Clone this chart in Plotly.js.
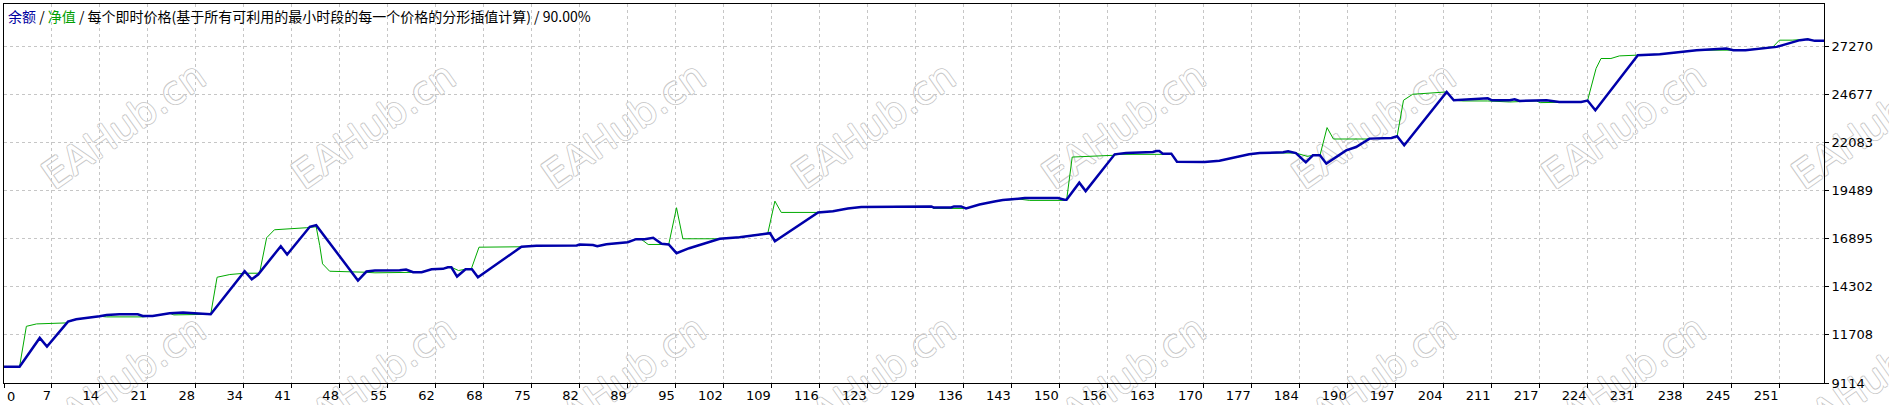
<!DOCTYPE html>
<html>
<head>
<meta charset="utf-8">
<script src="https://cdn.plot.ly/plotly-3.0.1.min.js"></script>
<style>
  html, body { margin: 0; padding: 0; background: #fff; }
  #chart { width: 1889px; height: 405px; }
</style>
</head>
<body>
<div id="chart"></div>
<script>
// ------------------------------------------------------------
// データ
// ------------------------------------------------------------

const seriesNames = ['余额', '净值']
const titleRest = '每个即时价格(基于所有可利用的最小时段的每一个价格的分形插值计算)'
const titleRatio = '90.00%'

// 余额 (balance) の折れ点: 取引番号 / 金額
const balanceTrade = [0, 2.2, 5.05, 6.07, 9.04, 10.2, 13.5, 14.5, 16.3, 18.9, 19.6, 21.0, 23.4, 25.3, 26.9, 29.2,
  34.0, 35.0, 35.9, 39.1, 40.0, 43.2, 44.1, 50.0, 51.2, 52.4, 55.9, 56.8, 57.8, 59.0, 60.4, 62.0, 62.7, 63.2,
  64.0, 65.2, 66.1, 66.95, 73.1, 75.2, 80.9, 81.3, 83.2, 83.8, 85.1, 87.0, 88.1, 89.3, 90.5, 91.7, 92.9, 93.9,
  95.0, 96.8, 101.1, 103.9, 107.7, 108.2, 108.9, 115.0, 117.1, 119.2, 121.1, 126.1, 131.0, 131.3, 133.8, 134.2,
  135.2, 135.9, 137.8, 139.9, 141.1, 144.2, 148.9, 149.8, 150.1, 151.9, 152.8, 156.9, 158.5, 162.3, 162.8, 163.2,
  163.7, 164.9, 165.7, 169.6, 171.7, 175.9, 177.4, 180.7, 181.4, 182.5, 183.9, 184.9, 185.9, 186.8, 189.6, 191.0,
  192.9, 196.0, 196.8, 197.8, 203.8, 204.8, 206.1, 208.4, 209.6, 210.2, 212.7, 213.4, 214.1, 217.9, 219.7, 222.8,
  223.7, 224.8, 230.8, 233.9, 237.2, 239.1, 243.3, 244.3, 246.0, 249.0, 250.4, 253.7, 254.8, 255.8, 257.1]
const balanceValue = [9995, 9995, 11546, 11075, 12426, 12551, 12713, 12788, 12821, 12821, 12734, 12734, 12875, 12913, 12875, 12821,
  15144, 14712, 14966, 16495, 16047, 17540, 17630, 14642, 15128, 15182, 15200, 15236, 15090, 15090, 15252, 15274, 15360, 15360,
  14858, 15252, 15252, 14820, 16463, 16517, 16533, 16587, 16560, 16495, 16603, 16657, 16711, 16873, 16873, 16949, 16625, 16587,
  16117, 16387, 16895, 16981, 17198, 17198, 16765, 18316, 18386, 18532, 18603, 18640, 18640, 18586, 18586, 18640,
  18640, 18532, 18748, 18910, 18981, 19089, 19089, 19003, 19003, 19921, 19467, 21450, 21521, 21575, 21628, 21628,
  21488, 21488, 21056, 21040, 21100, 21450, 21521, 21558, 21612, 21521, 21018, 21396, 21396, 20948, 21666, 21845,
  22298, 22331, 22423, 21937, 24817, 24368, 24406, 24476, 24476, 24368, 24368, 24422, 24330, 24368, 24276, 24276,
  24352, 23828, 26799, 26853, 26978, 27070, 27162, 27070, 27070, 27216, 27248, 27610, 27664, 27573, 27573]

// 净值 (equity) の折れ点
const equityTrade = [0, 2.2, 3.16, 4.6, 8.8, 9.04, 10.2, 13.5, 14.5, 19.6, 21.0, 23.4, 24.0, 28.5, 29.2,
  30.1, 31.9, 34.0, 36.1, 37.1, 38.2, 42.7, 44.1, 44.6, 45.0, 46.0, 49.3, 51.0, 52.4, 57.8, 59.0, 60.4, 62.0,
  62.7, 63.2, 64.2, 65.2, 66.0, 67.1, 73.1, 75.2, 80.9, 81.3, 83.2, 83.8, 85.1, 87.0, 88.1, 89.3, 90.0, 91.0,
  93.9, 95.0, 95.9, 100.4, 101.1, 103.9, 107.7, 107.9, 108.9, 109.8, 115.0, 117.1, 119.2, 121.1, 126.1, 131.0,
  131.3, 136.0, 137.8, 139.9, 141.1, 143.5, 144.9, 150.1, 150.9, 156.6, 157.5, 164.9, 165.7, 169.6, 171.7, 175.9,
  177.4, 182.5, 184.1, 184.9, 185.9, 186.9, 187.8, 192.4, 192.9, 196.0, 196.8, 197.7, 199.0, 203.8, 204.8, 206.1,
  209.6, 212.7, 216.5, 217.0, 219.7, 222.8, 223.7, 224.9, 225.6, 227.0, 228.2, 230.8, 233.9, 237.2, 239.1, 244.3,
  246.0, 249.0, 249.9, 250.8, 252.6, 254.8, 255.8, 257.1]
const equityValue = [9995, 9995, 12172, 12302, 12356, 12426, 12551, 12713, 12680, 12680, 12734, 12875, 12788, 12788, 12821,
  14820, 14966, 15036, 15036, 16949, 17381, 17490, 17544, 16533, 15544, 15144, 15128, 15090, 15058, 15058, 15090, 15252, 15274,
  15360, 15360, 15182, 15252, 15252, 16441, 16463, 16517, 16533, 16587, 16560, 16495, 16603, 16657, 16711, 16873, 16873, 16587,
  16587, 18570, 16895, 16895, 16895, 16981, 17198, 17198, 18927, 18316, 18316, 18386, 18532, 18603, 18640, 18640,
  18532, 18532, 18748, 18910, 18981, 19030, 18965, 18965, 21304, 21396, 21450, 21450, 21056, 21040, 21100, 21450,
  21521, 21521, 21342, 21396, 21396, 22893, 22277, 22277, 22298, 22331, 22423, 24368, 24692, 24817, 24368, 24330,
  24330, 24276, 24330, 24240, 24240, 24276, 24352, 26081, 26621, 26621, 26761, 26799, 26853, 26978, 27070, 27070,
  27070, 27216, 27248, 27610, 27610, 27664, 27573, 27573]

// 軸の目盛り
const xTickLabels = [0, 7, 14, 21, 28, 34, 41, 48, 55, 62, 68, 75, 82, 89, 95, 102, 109, 116, 123, 129, 136, 143, 150, 156,
  163, 170, 177, 184, 190, 197, 204, 211, 217, 224, 231, 238, 245, 251]
const yTickLabels = [9114, 11708, 14302, 16895, 19489, 22083, 24677, 27270]

// ------------------------------------------------------------
// レイアウト
// ------------------------------------------------------------

const W = 1889, H = 405
const M = { l: 4, r: 65, t: 4, b: 22 }
const xGridStep = 6.779      // MT4 はピクセル等間隔でグリッドを引く
const xRange = [0, 257.1]
const yRange = [9114, 29561]
const tickFont = { family: 'DejaVu Sans, Verdana, sans-serif', size: 13, color: '#000' }

// 透かし (EAHub.cn) の中心位置 [px]
const markCols = [122, 372, 622, 872, 1122, 1372, 1622, 1872]
const markRows = [123, 376]

const toPaperX = px => (px - M.l) / (W - M.l - M.r)
const toPaperY = py => (H - M.b - py) / (H - M.t - M.b)

const watermarks = []
markRows.forEach(py => {
  markCols.forEach(px => {
    watermarks.push({
      type: 'rect', xref: 'paper', yref: 'paper', layer: 'below',
      x0: toPaperX(px - 1), x1: toPaperX(px + 1), y0: toPaperY(py + 1), y1: toPaperY(py - 1),
      line: { width: 0 }, fillcolor: 'rgba(0,0,0,0)',
      label: {
        text: 'EAHub.cn', textangle: -35,
        font: {
          family: 'DejaVu Sans, sans-serif', size: 39, color: '#ffffff',
          shadow: '1px 0 0 #c8c8c8, -1px 0 0 #c8c8c8, 0 1px 0 #c8c8c8, 0 -1px 0 #c8c8c8'
        }
      }
    })
  })
})

const traces = [
  {
    x: equityTrade, y: equityValue, name: seriesNames[1],
    type: 'scatter', mode: 'lines',
    line: { color: '#00aa00', width: 1 }
  },
  {
    x: balanceTrade, y: balanceValue, name: seriesNames[0],
    type: 'scatter', mode: 'lines',
    line: { color: '#0000aa', width: 2.5 }
  }
]

const titleText = '<span style="color:#0000a0">' + seriesNames[0] + '</span> / ' +
  '<span style="color:#00a000">' + seriesNames[1] + '</span> / ' +
  titleRest + ' / ' + titleRatio

const layout = {
  width: W, height: H,
  margin: M,
  paper_bgcolor: '#fff', plot_bgcolor: '#fff',
  showlegend: false,
  title: {
    text: titleText,
    xref: 'paper', x: 0, xanchor: 'left',
    yref: 'paper', y: 1, yanchor: 'top',
    pad: { l: 4, t: 8 },
    font: { family: 'Noto Sans CJK SC, sans-serif', size: 14, color: '#000' }
  },
  xaxis: {
    range: xRange, fixedrange: true,
    tickmode: 'array',
    tickvals: xTickLabels.map((_, k) => k * xGridStep),
    ticktext: xTickLabels.map(String),
    ticklabelposition: 'outside left',
    ticklabeloverflow: 'hide past div',
    ticks: 'outside', ticklen: 4, tickcolor: '#000',
    tickfont: tickFont,
    showgrid: true, gridcolor: '#c6c6c6', griddash: '3px,3px', gridwidth: 1,
    showline: true, linecolor: '#000', linewidth: 1, mirror: true,
    zeroline: false
  },
  yaxis: {
    range: yRange, fixedrange: true, side: 'right',
    tickmode: 'array',
    tickvals: yTickLabels,
    ticktext: yTickLabels.map(String),
    ticks: 'outside', ticklen: 4, tickcolor: '#000',
    tickfont: tickFont,
    showgrid: true, gridcolor: '#c6c6c6', griddash: '3px,3px', gridwidth: 1,
    showline: true, linecolor: '#000', linewidth: 1, mirror: true,
    zeroline: false
  },
  shapes: watermarks,
  annotations: [{
    // 左端の「0」は MT4 では右寄せにならない
    text: String(xTickLabels[0]), xref: 'x', x: 0, yref: 'paper', y: 0,
    xanchor: 'left', yanchor: 'top', xshift: 1, yshift: -4, showarrow: false,
    font: tickFont
  }]
}

Plotly.newPlot('chart', traces, layout, { staticPlot: true, displayModeBar: false })
</script>
</body>
</html>
